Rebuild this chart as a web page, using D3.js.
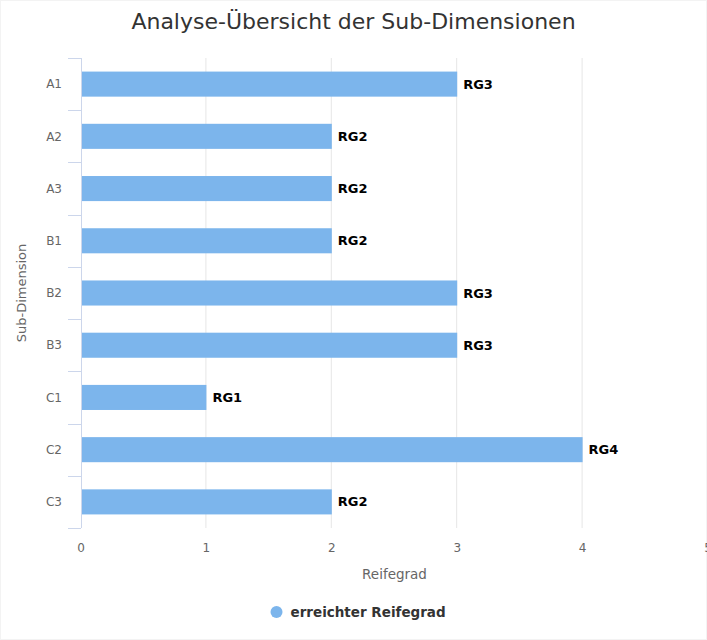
<!DOCTYPE html>
<html>
<head>
<meta charset="utf-8">
<script src="https://cdn.jsdelivr.net/npm/d3@7"></script>
<style>
  body { margin: 0; background: #fff; }
  svg { display: block; font-family: "DejaVu Sans", "Open Sans", sans-serif; }
</style>
</head>
<body>
<div id="chart"></div>
<script>
const categories = ["A1", "A2", "A3", "B1", "B2", "B3", "C1", "C2", "C3"];
const values = [3, 2, 2, 2, 3, 3, 1, 4, 2];
const labels = ["RG3", "RG2", "RG2", "RG2", "RG3", "RG3", "RG1", "RG4", "RG2"];
const xTicks = [0, 1, 2, 3, 4, 5];

const width = 707, height = 640;
const margin = { top: 58, right: -1, bottom: 112, left: 81 };

let svg = d3.select("#chart")
    .append("svg")
    .attr("width", width)
    .attr("height", height);

let plotW = width - margin.left - margin.right;
let plotH = height - margin.top - margin.bottom;

let x = d3.scaleLinear().domain([0, 5]).range([0, plotW]);
let y = d3.scaleBand().domain(categories).range([0, plotH]).paddingInner(0.52).paddingOuter(0.26);

// faint frame round the chart
svg.append("rect")
    .attr("x", 0.5).attr("y", 0.5)
    .attr("width", width - 1).attr("height", height - 1)
    .attr("fill", "none")
    .attr("stroke", "#f3f3f3");

// title
svg.append("text")
    .attr("x", width / 2)
    .attr("y", 29)
    .attr("text-anchor", "middle")
    .style("font-size", "22px")
    .style("fill", "#333")
    .text("Analyse-Übersicht der Sub-Dimensionen");

let g = svg.append("g")
    .attr("transform", `translate(${margin.left}, ${margin.top})`);

// gridlines
g.append("g")
    .attr("class", "grids")
    .selectAll("line")
    .data(xTicks.slice(1))
    .join("line")
    .attr("x1", d => x(d) - 0.5)
    .attr("x2", d => x(d) - 0.5)
    .attr("y1", 0)
    .attr("y2", plotH)
    .attr("stroke", "#e6e6e6");

// y axis line and ticks between categories
let yAxis = g.append("g").attr("class", "y-axis");
yAxis.append("line")
    .attr("x1", 0.5).attr("x2", 0.5)
    .attr("y1", 0).attr("y2", plotH)
    .attr("stroke", "#ccd6eb");

let step = y.step();
yAxis.selectAll(".tick")
    .data(d3.range(categories.length + 1))
    .join("line")
    .attr("class", "tick")
    .attr("x1", -13).attr("x2", 0)
    .attr("y1", i => Math.round(i * step) + 0.5)
    .attr("y2", i => Math.round(i * step) + 0.5)
    .attr("stroke", "#ccd6eb");

yAxis.selectAll(".cat-label")
    .data(categories)
    .join("text")
    .attr("class", "cat-label")
    .attr("x", -19)
    .attr("y", d => y(d) + y.bandwidth() / 2)
    .attr("dy", "0.35em")
    .attr("text-anchor", "end")
    .style("font-size", "12px")
    .style("fill", "#666")
    .text(d => d);

// x tick labels
g.append("g")
    .selectAll("text")
    .data(xTicks)
    .join("text")
    .attr("x", d => x(d))
    .attr("y", plotH + 24)
    .attr("text-anchor", "middle")
    .style("font-size", "12px")
    .style("fill", "#666")
    .text(d => d);

// axis titles
g.append("text")
    .attr("x", plotW / 2)
    .attr("y", plotH + 51)
    .attr("text-anchor", "middle")
    .style("font-size", "13.5px")
    .style("fill", "#666")
    .text("Reifegrad");

svg.append("text")
    .attr("transform", `translate(26, ${margin.top + plotH / 2}) rotate(-90)`)
    .attr("text-anchor", "middle")
    .style("font-size", "13px")
    .style("fill", "#666")
    .text("Sub-Dimension");

// bars
g.append("g")
    .selectAll("rect")
    .data(values)
    .join("rect")
    .attr("x", 1)
    .attr("y", (d, i) => y(categories[i]))
    .attr("width", d => x(d) - 1)
    .attr("height", y.bandwidth())
    .attr("fill", "#7cb5ec");

// data labels
g.append("g")
    .selectAll("text")
    .data(values)
    .join("text")
    .attr("x", d => x(d) + 6)
    .attr("y", (d, i) => y(categories[i]) + y.bandwidth() / 2)
    .attr("dy", "0.35em")
    .style("font-size", "13px")
    .style("font-weight", "bold")
    .style("fill", "#000")
    .text((d, i) => labels[i]);

// legend
let legend = svg.append("g").attr("transform", `translate(${width / 2}, 612)`);
legend.append("circle")
    .attr("cx", -77)
    .attr("cy", 0)
    .attr("r", 6)
    .attr("fill", "#7cb5ec");
legend.append("text")
    .attr("x", -63)
    .attr("dy", "0.35em")
    .style("font-size", "13.5px")
    .style("font-weight", "bold")
    .style("fill", "#333")
    .text("erreichter Reifegrad");
</script>
</body>
</html>
